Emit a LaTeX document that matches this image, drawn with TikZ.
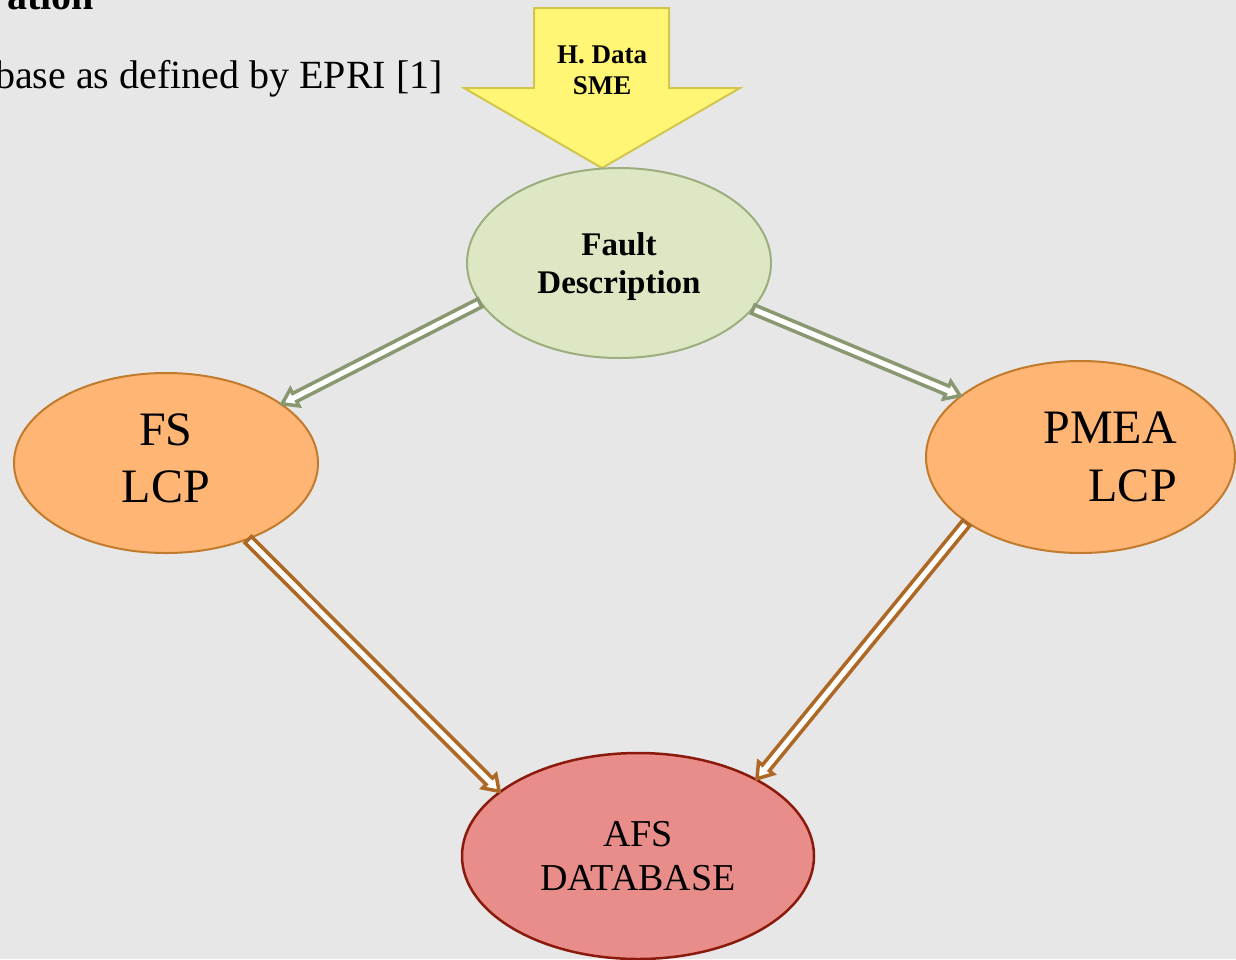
\documentclass[tikz,border=0pt]{standalone}
\usepackage{fontspec}
\setmainfont{Liberation Serif}
\usetikzlibrary{shapes.geometric,calc}
\definecolor{bg}{HTML}{E7E7E7}
\definecolor{fdfill}{HTML}{DDE7C4}
\definecolor{fdline}{HTML}{9CAD7E}
\definecolor{orfill}{HTML}{FFB573}
\definecolor{orline}{HTML}{C27B2C}
\definecolor{dbfill}{HTML}{E88D89}
\definecolor{dbline}{HTML}{8A1A0C}
\definecolor{yfill}{HTML}{FFF676}
\definecolor{yline}{HTML}{D2C64C}
\definecolor{garrow}{HTML}{8A9872}
\definecolor{barrow}{HTML}{AD6826}
\newcommand\blockarrow[3]{%
  \path[#1]
    ($(#2)!4.5pt!90:(#3)$) --
    ($($(#3)!14pt!(#2)$)!4.5pt!90:(#3)$) --
    ($($(#3)!14pt!(#2)$)!9.5pt!90:(#3)$) --
    (#3) --
    ($($(#3)!14pt!(#2)$)!9.5pt!-90:(#3)$) --
    ($($(#3)!14pt!(#2)$)!4.5pt!-90:(#3)$) --
    ($(#2)!4.5pt!-90:(#3)$) -- cycle;}
\tikzset{
  oval/.style={ellipse, inner sep=0pt, line width=2pt},
  greenarrow/.style={draw=garrow, fill=white, line width=3.5pt, line join=miter},
  brownarrow/.style={draw=barrow, fill=white, line width=3.5pt, line join=miter},
}
\begin{document}
\begin{tikzpicture}[x=1pt,y=-1pt]
\fill[bg] (0,0) rectangle (1236,959);
\useasboundingbox (0,0) rectangle (1236,959);

\node[anchor=base east, inner sep=0pt, font=\fontsize{40}{44}\selectfont\bfseries] (ttl) at (94,9) {ation};
\node[anchor=base east, inner sep=0pt, font=\fontsize{40}{44}\selectfont] (cap) at (443,88) {base as defined by EPRI [1]};

% yellow block arrow
\path[fill=yfill, draw=yline, line width=2pt, line join=miter]
  (534,8) -- (669,8) -- (669,88) -- (740,88) -- (602,168) -- (464,88) -- (534,88) -- cycle;
\node[align=center, inner sep=0pt, font=\fontsize{27}{31}\selectfont\bfseries] (hdata) at (602,70) {H. Data\\SME};

\node[oval, fill=fdfill, draw=fdline, minimum width=304pt, minimum height=190pt,
  align=center, font=\fontsize{33}{38}\selectfont\bfseries] (fd) at (619,263) {};
\node[align=center, inner sep=0pt, font=\fontsize{33}{38}\selectfont\bfseries] (fdtext) at (619,267) {Fault\\Description};
\node[oval, fill=orfill, draw=orline, minimum width=304pt, minimum height=180pt] (fs) at (166,463) {};
\node[align=center, inner sep=0pt, font=\fontsize{48}{57}\selectfont] (fstext) at (166,458) {FS\\LCP};
\node[oval, fill=orfill, draw=orline, minimum width=309pt, minimum height=192pt] (pm) at (1080.5,457) {};
\node[align=right, inner sep=0pt, font=\fontsize{48}{58}\selectfont] (pmtext) at (1110,457) {PMEA\\LCP};
\node[oval, fill=dbfill, draw=dbline, line width=2.5pt, minimum width=352pt, minimum height=206pt,
  align=center, font=\fontsize{38}{44}\selectfont] (db) at (638,856) {AFS\\DATABASE};

\blockarrow{greenarrow}{fd.196}{fs.27}
\blockarrow{greenarrow}{fd.341}{pm.153}
\blockarrow{brownarrow}{fs.317}{db.155}
\blockarrow{brownarrow}{pm.210}{db.33}
\end{tikzpicture}
\end{document}
